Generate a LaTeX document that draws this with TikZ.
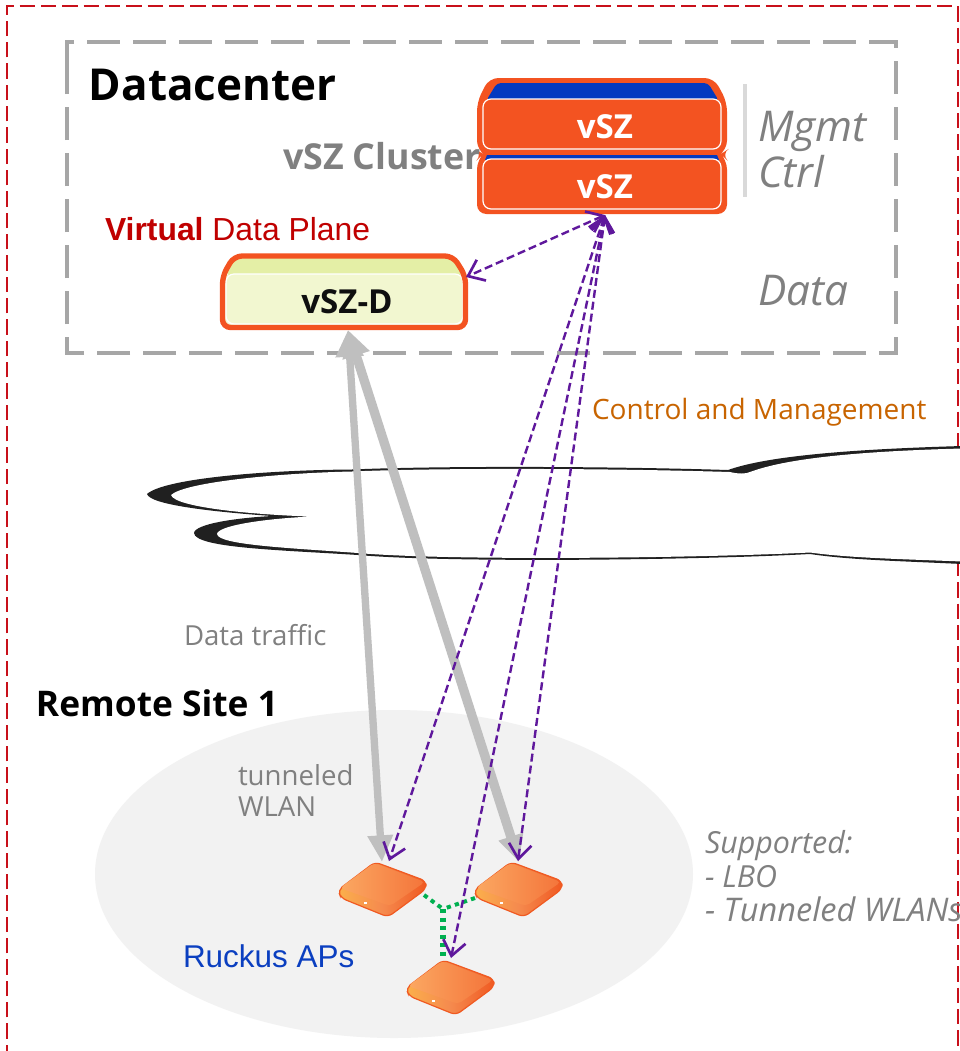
\documentclass[tikz,border=0pt]{standalone}
\usepackage{fontspec}
\setmainfont{Open Sans}
\newfontfamily\arialf{Liberation Sans}
\usetikzlibrary{arrows.meta,shapes.geometric,calc}
\definecolor{orng}{HTML}{F35321}
\definecolor{blu}{HTML}{0339C0}
\definecolor{purp}{HTML}{5F189C}
\definecolor{txtgray}{HTML}{808080}
\definecolor{arrgray}{HTML}{BFBFBF}
\definecolor{dashgray}{HTML}{A6A6A6}
\definecolor{greenc}{HTML}{00B050}
\definecolor{apa}{HTML}{FBB04C}
\definecolor{apb}{HTML}{F58A4E}
\definecolor{apc}{HTML}{F05A22}
\definecolor{apd}{HTML}{FBA862}
\definecolor{ape}{HTML}{F4743A}
\tikzset{
 x=0.75pt,y=-0.75pt,
 lbl/.style={anchor=west,inner sep=0pt,outer sep=0pt,align=left},
 srvtext/.style={inner sep=0pt,font=\fontsize{24.8}{28}\selectfont\bfseries},
 purpline/.style={draw=purp,line width=1.8pt,dash pattern=on 6pt off 3pt,{Straight Barb[length=11pt,width=17pt,line width=2pt]}-{Straight Barb[length=11pt,width=17pt,line width=2pt]}},
 grayarrow/.style={draw=arrgray,{Triangle[length=20pt,width=20pt]}-{Triangle[length=20pt,width=18pt]}},
 greenline/.style={draw=greenc,dash pattern=on 3.2pt off 3.2pt},
 pics/apbox/.style={code={
  \path[left color=apa,right color=apc,middle color=apb,draw=apc,line width=0.9pt,rounded corners=4pt]
    (-37,28) -- (0,0) -- (51,19) -- (51,27) -- (13,55) -- (-34,36) -- cycle;
  \path[left color=apd,right color=ape,rounded corners=3pt]
    (-35,26) -- (-1,1) -- (50,20) -- (15,44) -- cycle;
  \fill[white] (-11,40) rectangle +(3,2);
 }}
}
\begin{document}
\begin{tikzpicture}
\useasboundingbox (0,0) rectangle (960,1051);
\fill[white] (0,0) rectangle (960,1051);
% page frame
\draw[color={rgb,255:red,200;green,16;blue,26},line width=1.4pt,dash pattern=on 11.5pt off 4.5pt] (7,1060) -- (7,6) -- (958,6) -- (958,1060);
% ellipse
\fill[color={rgb,255:red,242;green,242;blue,242}] (394,874) ellipse [x radius=299,y radius=164];
% cloud
\fill[color={rgb,255:red,32;green,32;blue,32}] (147,494) .. controls (165,478) and (270,470) .. (352,469.5)
  .. controls (430,466) and (600,466) .. (728,470)
  .. controls (770,455) and (860,449) .. (962,446) -- (962,564)
  .. controls (900,561) and (850,560) .. (810,554)
  .. controls (700,560) and (450,563) .. (358,555)
  .. controls (280,550) and (195,548) .. (194,533)
  .. controls (195,524) and (235,518) .. (272,516)
  .. controls (215,512) and (150,505) .. (147,494) -- cycle;
\fill[white] (171,495) .. controls (185,482) and (280,473) .. (352,471.5)
  .. controls (430,468) and (600,468) .. (730,472)
  .. controls (738,474) and (746,474) .. (750,472)
  .. controls (790,457) and (870,451) .. (962,448.5) -- (962,561.5)
  .. controls (900,559) and (850,558) .. (810,552.5)
  .. controls (700,558) and (450,561) .. (358,553)
  .. controls (290,548) and (218,545) .. (217,534)
  .. controls (218,526) and (260,519) .. (311,516.5)
  .. controls (260,515) and (175,508) .. (171,495) -- cycle;
% datacenter frame
\draw[dashgray,line width=3.4pt,dash pattern=on 24.7pt off 9.8pt] (67,68) -- (67,42) -- (896,42) -- (896,353) -- (67,353) -- cycle;
% divider
\draw[color={rgb,255:red,217;green,217;blue,217},line width=3pt] (745,84) -- (745,197);
% vSZ stack
\fill[orng,rounded corners=7pt] (477,102) -- (489,78) -- (714,78) -- (727,102) -- (727,150) -- (721,154) -- (727,160) -- (727,214) -- (477,214) -- (477,160) -- (483,154) -- (477,150) -- cycle;
\fill[blu,rounded corners=3pt] (486,101) -- (497,83) -- (708,83) -- (719,101) -- cycle;
\fill[blu] (487,155) -- (717,155) -- (719,160) -- (485,160) -- cycle;
\draw[draw=white,fill=orng,line width=0.9pt,rounded corners=6pt] (483,99) rectangle (721,149);
\draw[draw=white,fill=orng,line width=0.9pt,rounded corners=6pt] (483,159) rectangle (721,209);
\node[srvtext,text=white] (szt1) at (605,127) {vSZ};
\node[srvtext,text=white] (szt2) at (605,187) {vSZ};
\coordinate (sztip) at (605,215);
% vSZ-D
\fill[color={rgb,255:red,242;green,247;blue,208}] (224,275) rectangle (465,326);
\fill[color={rgb,255:red,228;green,239;blue,166},rounded corners=6pt] (224,276) -- (236,256) -- (452,256) -- (465,276) -- cycle;
\draw[white,fill={rgb,255:red,242;green,247;blue,208},line width=0.9pt,rounded corners=6pt] (226,274) rectangle (463,324);
\draw[orng,line width=4pt,rounded corners=6pt] (222.5,276) -- (234,256) -- (453,256) -- (465.5,276) -- (465.5,327.5) -- (222.5,327.5) -- cycle;
\node[srvtext,text={rgb,255:red,15;green,15;blue,15}] (szd) at (347,302) {vSZ-D};
\coordinate (szdtip) at (348,330);
\coordinate (szdside) at (466,277);
% APs
\path (375,862) pic (apone) {apbox} (511,862) pic (aptwo) {apbox} (443,960) pic (apthree) {apbox};
\coordinate (aponetip) at (382,862);
\coordinate (aptwotip) at (519,862);
\coordinate (aponeb) at (389,861);
\coordinate (aptwob) at (518,861);
\coordinate (apthreeb) at (451,958);
\coordinate (aponeg) at (424,895);
\coordinate (aptwog) at (475,898);
\coordinate (apthreeg) at (443,960);
\coordinate (junct) at (443,909);
% green links
\draw[greenline,line width=3pt] (aponeg) -- (junct);
\draw[greenline,line width=3pt] (aptwog) -- (junct);
\draw[greenline,line width=3.8pt] (junct) -- (apthreeg);
% gray arrows
\draw[grayarrow,line width=5.5pt] (szdtip) -- (aponetip);
\draw[grayarrow,line width=7pt] (szdtip) -- (aptwotip);
% purple arrows
\draw[purpline] (sztip) -- (szdside);
\draw[purpline] (sztip) -- (aponeb);
\draw[purpline] (sztip) -- (aptwob);
\draw[purpline] (sztip) -- (apthreeb);
% texts
\node[lbl,text=black,font=\fontsize{33}{38}\selectfont\bfseries] (dc) at (89,85) {Datacenter};
\node[lbl,text=txtgray,font=\fontsize{26.8}{30}\selectfont\bfseries] (clu) at (283,156) {vSZ Cluster};
\node[lbl,text={rgb,255:red,192;green,0;blue,0},font=\arialf\fontsize{23.9}{27}\selectfont] (vdp) at (105,229) {\textbf{Virtual} Data Plane};
\node[lbl,text=txtgray,font=\fontsize{31.8}{36}\selectfont\itshape] (mg) at (758,131.5) {Mgmt};
\node[lbl,text=txtgray,font=\fontsize{31.8}{36}\selectfont\itshape] (ct) at (758,172) {Ctrl};
\node[lbl,text=txtgray,font=\fontsize{31.8}{36}\selectfont\itshape] (da) at (758,291) {Data};
\node[lbl,text={rgb,255:red,200;green,100;blue,0},font=\fontsize{21}{24}\selectfont] (cm) at (592,412) {Control and Management};
\node[lbl,text=txtgray,font=\fontsize{20.7}{24}\selectfont] (dt) at (184,635) {Data traffic};
\node[lbl,text=black,font=\fontsize{26.5}{30}\selectfont\bfseries] (rs) at (36,703) {Remote Site 1};
\node[lbl,text=txtgray,font=\fontsize{20.7}{23.25}\selectfont] (tw) at (238,790.5) {tunneled\\WLAN};
\node[lbl,text={rgb,255:red,11;green,63;blue,192},font=\arialf\fontsize{23.6}{26}\selectfont] (ra) at (183,956) {Ruckus APs};
\node[lbl,text=txtgray,font=\fontsize{22.8}{25.5}\selectfont\itshape] (sp) at (705,876) {Supported:\\- LBO\\\fontsize{24.4}{25.5}\selectfont - Tunneled WLANs};
\end{tikzpicture}
\end{document}
